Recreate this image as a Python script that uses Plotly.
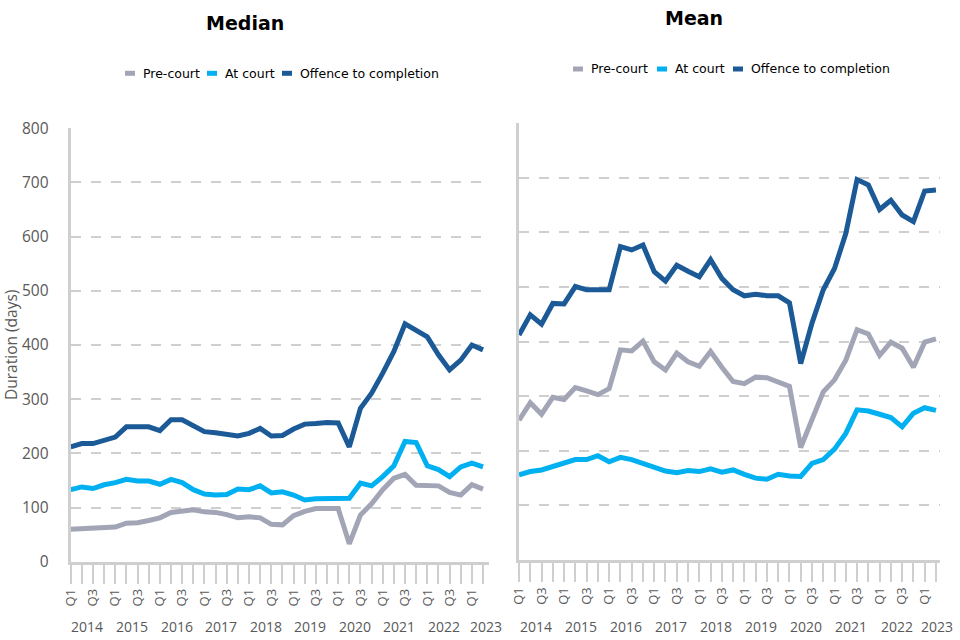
import plotly.graph_objects as go

years = [2014, 2015, 2016, 2017, 2018, 2019, 2020, 2021, 2022, 2023]
quarters = [f"{y} Q{q}" for y in years for q in (1, 2, 3, 4)][:38]
quarter_ticks = ["Q1", "", "Q3", ""]

series_names = ["Pre-court", "At court", "Offence to completion"]
series_colors = ["#A2A5B5", "#00B0F0", "#1B5A97"]

median_pre = [60, 61, 62, 62, 64, 71, 72, 76, 81, 91, 93, 96, 92, 91, 87, 81, 83, 81, 69, 68,
              85, 93, 98, 99, 98, 33, 86, 107, 133, 154, 161, 141, 140, 140, 128, 123, 142, 134]
median_court = [133, 138, 135, 142, 146, 152, 149, 149, 143, 152, 146, 133, 125, 123, 124, 134, 133, 140, 127, 129,
                123, 114, 116, 117, 116, 117, 145, 140, 157, 177, 222, 220, 177, 170, 157, 175, 182, 175]
median_off = [212, 218, 218, 224, 230, 249, 248, 249, 242, 262, 262, 251, 240, 238, 235, 232, 237, 246, 232, 233,
              245, 254, 255, 257, 256, 212, 283, 311, 348, 388, 439, 428, 415, 382, 354, 372, 400, 391]

mean_pre = [256, 288, 267, 298, 294, 316, 310, 303, 314, 385, 383, 401, 363, 348, 379, 363, 355, 382, 353, 327,
            323, 335, 334, 327, 318, 206, 256, 308, 330, 366, 422, 414, 375, 399, 388, 353, 399, 405]
mean_court = [156, 162, 165, 172, 177, 184, 184, 191, 180, 188, 184, 177, 168, 163, 160, 164, 162, 167, 161, 165,
              157, 150, 148, 157, 154, 153, 177, 184, 203, 232, 275, 273, 267, 261, 244, 269, 279, 274]
mean_off = [412, 449, 432, 470, 469, 501, 495, 495, 495, 574, 568, 577, 528, 511, 540, 529, 519, 550, 516, 495,
            484, 487, 484, 484, 471, 360, 434, 495, 534, 598, 697, 687, 642, 659, 632, 620, 676, 678]

panel_titles = ["Median", "Mean"]
y_title = "Duration (days)"
y_ticks = [0, 100, 200, 300, 400, 500, 600, 700, 800]

W, H = 960, 640
GRID = "#CFCFCF"
TXT = "#595959"
TICK_FONT = "Open Sans"
LEG_FONT = "DejaVu Sans"

fig = go.Figure()
xs = list(range(len(quarters)))
panels = [("x", "y", [median_pre, median_court, median_off]),
          ("x2", "y2", [mean_pre, mean_court, mean_off])]
for xa, ya, vals in panels:
    for name, color, v in zip(series_names, series_colors, vals):
        fig.add_trace(go.Scatter(x=xs, y=v, mode="lines", name=name, xaxis=xa, yaxis=ya,
                                 line=dict(color=color, width=5), showlegend=False,
                                 customdata=quarters, hovertemplate="%{customdata}: %{y}<extra>" + name + "</extra>"))

def px_x(p):
    return p / W

def px_y(p):
    return 1 - p / H

x_ranges = {"x": [0, 37.5], "x2": [0, 37.36]}
ticktext = [quarter_ticks[i % 4] for i in xs]
common_x = dict(tickmode="array", tickvals=xs, ticktext=ticktext, tickangle=-90,
                ticks="outside", ticklen=19, tickwidth=2, tickcolor=GRID,
                showline=True, linecolor=GRID, linewidth=3, showgrid=False, zeroline=False,
                tickfont=dict(family=TICK_FONT, size=13, color=TXT), fixedrange=True)
common_y = dict(range=[0, 800], tickvals=y_ticks, showgrid=True, gridcolor=GRID, gridwidth=2,
                griddash="10px,10px", showline=True, linecolor=GRID, linewidth=3, zeroline=False,
                ticks="", fixedrange=True)

fig.update_layout(
    width=W, height=H, margin=dict(l=0, r=0, t=0, b=0, autoexpand=False),
    paper_bgcolor="white", plot_bgcolor="white", showlegend=False,
    xaxis=dict(domain=[px_x(70.7), px_x(488.6)], range=x_ranges["x"], anchor="y", **common_x),
    yaxis=dict(domain=[px_y(561.7), px_y(128.3)], anchor="x", ticklabelstandoff=16,
               tickfont=dict(family=TICK_FONT, size=15.5, color=TXT), **common_y),
    xaxis2=dict(domain=[px_x(519), px_x(940)], range=x_ranges["x2"], anchor="y2", **common_x),
    yaxis2=dict(domain=[px_y(560), px_y(123.3)], anchor="x2", showticklabels=False, **common_y),
)

annotations = []
# panel titles
for title, cx, cy in zip(panel_titles, [245, 694], [23, 18]):
    annotations.append(dict(text=f"<b>{title}</b>", xref="paper", yref="paper", x=px_x(cx), y=px_y(cy),
                            xanchor="center", yanchor="middle", showarrow=False,
                            font=dict(family="DejaVu Sans", size=19, color="black")))
# y axis title
annotations.append(dict(text=y_title, xref="paper", yref="paper", x=px_x(11), y=px_y(345), textangle=-90,
                        xanchor="center", yanchor="middle", showarrow=False,
                        font=dict(family=TICK_FONT, size=15.5, color=TXT)))
# year labels, centred over the four quarters of each year (kept inside the axis range)
for xref in ["x", "x2"]:
    for y in years:
        first = quarters.index(f"{y} Q1")
        cx = min(first + 1.5, x_ranges[xref][1] - 0.25)
        annotations.append(dict(text=str(y), xref=xref, yref="paper", x=cx, y=px_y(626),
                                xanchor="center", yanchor="middle", showarrow=False,
                                font=dict(family=TICK_FONT, size=14, color=TXT)))

# custom legends (swatch start x for each item, and legend row y)
legend_layouts = [([125, 207, 282], 73.3), ([573, 657, 733], 69)]
shapes = []
for starts, ly in legend_layouts:
    for sx, name, color in zip(starts, series_names, series_colors):
        shapes.append(dict(type="rect", xref="paper", yref="paper",
                           x0=px_x(sx), x1=px_x(sx + 10), y0=px_y(ly + 2.5), y1=px_y(ly - 2.5),
                           fillcolor=color, line=dict(width=0)))
        annotations.append(dict(text=name, xref="paper", yref="paper", x=px_x(sx + 16), y=px_y(ly),
                                xanchor="left", yanchor="middle", showarrow=False,
                                font=dict(family=LEG_FONT, size=12.5, color="black")))

fig.update_layout(annotations=annotations, shapes=shapes)
fig.write_html("out.html", config={"displayModeBar": False},
               post_script="document.body.style.margin='0';document.body.style.overflow='hidden';")
